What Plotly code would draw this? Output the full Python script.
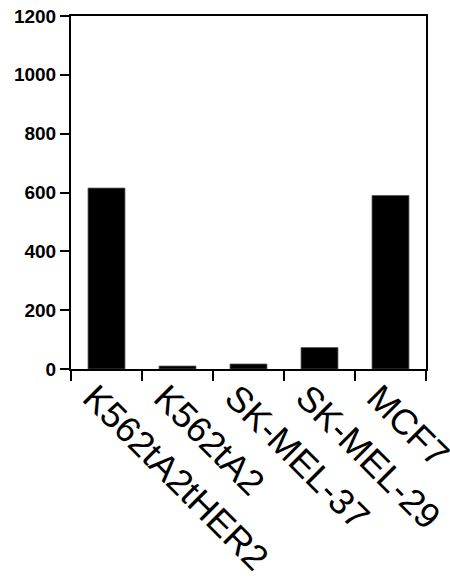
import plotly.graph_objects as go

categories = ["K562tA2tHER2", "K562tA2", "SK-MEL-37", "SK-MEL-29", "MCF7"]
values = [615, 10, 17, 73, 590]
y_ticks = [0, 200, 400, 600, 800, 1000, 1200]

fig = go.Figure(go.Bar(
    x=categories, y=values, width=0.52,
    marker=dict(color="black", line=dict(color="#555", width=0.8)),
))

fig.update_layout(
    width=450, height=581,
    margin=dict(l=71, r=24, t=16, b=212),
    paper_bgcolor="white", plot_bgcolor="white",
    showlegend=False,
    font=dict(family="Liberation Sans, Arial, sans-serif", color="black"),
)
fig.update_yaxes(
    range=[0, 1200], tickvals=y_ticks, ticks="outside", ticklen=9, tickwidth=1.5,
    tickcolor="black", showline=True, linecolor="black", linewidth=2, mirror=True,
    showgrid=False, zeroline=False, automargin=False,
    tickfont=dict(family="Liberation Sans, Arial, sans-serif", size=19, weight="bold"),
)
fig.update_xaxes(
    tickson="boundaries", ticks="outside", ticklen=10, tickwidth=1.5, tickcolor="black",
    showline=True, linecolor="black", linewidth=2, mirror=True, showgrid=False,
    automargin=False, ticklabelshift=-13, ticklabelstandoff=-9,
    tickangle=45, tickfont=dict(family="Liberation Sans, Arial, sans-serif", size=36),
)
fig.write_html(
    "out.html",
    config={"displayModeBar": False},
    post_script="document.body.style.margin='0';document.body.style.overflow='hidden';",
)
